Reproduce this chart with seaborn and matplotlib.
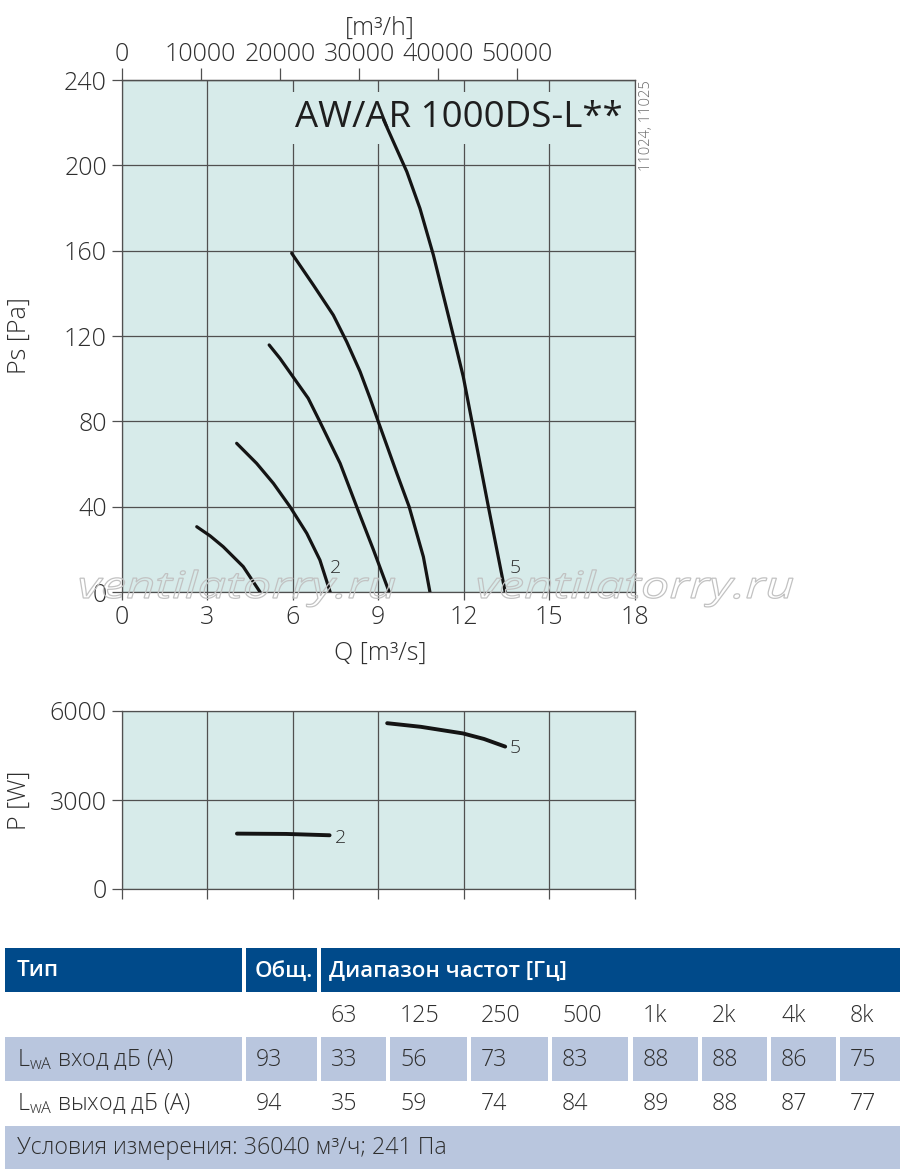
import numpy as np
import pandas as pd
import matplotlib
matplotlib.use("Agg")
import matplotlib.pyplot as plt
import seaborn as sns
from matplotlib import font_manager as fm
from matplotlib.patches import Rectangle, PathPatch
from matplotlib.textpath import TextPath
from matplotlib.font_manager import FontProperties
from matplotlib.transforms import Affine2D

# ---------------- data ----------------
# Static pressure curves (Q in m3/s, Ps in Pa)
c1_q = [2.64, 3.11, 3.57, 4.27, 4.86]
c1_ps = [30.6, 26.3, 21.2, 11.9, 0.0]
c2_q = [4.04, 4.74, 5.33, 5.91, 6.50, 6.96, 7.32]
c2_ps = [69.7, 60.3, 50.9, 40.0, 27.5, 15.0, 0.0]
c3_q = [5.18, 5.56, 6.55, 6.96, 7.67, 8.25, 8.84, 9.39]
c3_ps = [115.8, 109.5, 90.8, 79.8, 60.3, 40.0, 19.7, 0.0]
c4_q = [5.97, 6.73, 7.43, 7.90, 8.37, 8.72, 9.01, 9.66, 10.09, 10.59, 10.82]
c4_ps = [158.8, 143.9, 129.8, 117.3, 103.3, 90.8, 79.8, 55.6, 40.0, 16.5, 0.0]
c5_q = [9.19, 9.59, 10.01, 10.47, 10.94, 11.64, 11.99, 12.29, 12.87, 13.46]
c5_ps = [221.5, 209.5, 197.0, 179.8, 158.0, 120.2, 100.9, 80.2, 40.0, 0.0]

# Power curves (Q in m3/s, P in W)
p2_q = [4.05, 5.78, 7.30]
p2_w = [1867, 1856, 1811]
p5_q = [9.32, 10.5, 11.98, 12.72, 13.46]
p5_w = [5589, 5467, 5244, 5056, 4800]

q_ticks = [0, 3, 6, 9, 12, 15, 18]
ps_ticks = [0, 40, 80, 120, 160, 200, 240]
p_ticks = [0, 3000, 6000]
m3h_ticks = [0, 10000, 20000, 30000, 40000, 50000]

title_text = "AW/AR 1000DS-L**"
code_text = "11024, 11025"
watermark = "ventilatorry.ru"

# Table data
tbl_head = ["Тип", "Общ.", "Диапазон частот [Гц]"]
freq_labels = ["63", "125", "250", "500", "1k", "2k", "4k", "8k"]
row_in_label = r"L$_{\mathrm{wA}}$ вход дБ (А)"
row_out_label = r"L$_{\mathrm{wA}}$ выход дБ (А)"
total_in = 93
total_out = 94
lwa_in = [33, 56, 73, 83, 88, 88, 86, 75]
lwa_out = [35, 59, 74, 84, 89, 88, 87, 77]
conditions = "Условия измерения: 36040 м³/ч; 241 Па"

# ---------------- style ----------------
sns.set_theme(style="white")
names = {f.name for f in fm.fontManager.ttflist}


def pick(*cands):
    for c in cands:
        if c in names:
            return c
    return "DejaVu Sans"


main_font = pick("Open Sans", "Noto Sans", "Lato", "DejaVu Sans")
cond_font = pick("Open Sans", "Noto Sans", "DejaVu Sans")
plt.rcParams["font.family"] = [main_font, "DejaVu Sans"]
plt.rcParams["font.weight"] = "light"
plt.rcParams["mathtext.fontset"] = "custom"
plt.rcParams["mathtext.rm"] = main_font + ":light"
plt.rcParams["mathtext.it"] = main_font + ":italic"
plt.rcParams["mathtext.bf"] = main_font + ":bold"

BG = "#d7ebea"
GRID = "#505050"
TXT = "#2e2e2e"
LINE = "#141414"

W, H = 900, 1173
fig = plt.figure(figsize=(W / 100, H / 100), dpi=100)


def fpos(l, t, r, b):
    return [l / W, 1 - b / H, (r - l) / W, (b - t) / H]


def ftext(px, py, s, **kw):
    fig.text(px / W, 1 - py / H, s, **kw)


# ---------------- main Ps chart ----------------
ax = fig.add_axes(fpos(121.5, 80, 634.6, 592))
ax.set_facecolor(BG)
df_ps = pd.concat([
    pd.DataFrame({"Q": q, "Ps": p, "curve": i})
    for i, (q, p) in enumerate([(c1_q, c1_ps), (c2_q, c2_ps), (c3_q, c3_ps),
                                (c4_q, c4_ps), (c5_q, c5_ps)], start=1)
])
sns.lineplot(data=df_ps, x="Q", y="Ps", units="curve", estimator=None,
             sort=False, color=LINE, lw=2.3, ax=ax, zorder=4)
ax.set_xlim(0, 18)
ax.set_ylim(0, 240)
ax.set_xticks(q_ticks)
ax.set_yticks(ps_ticks)
ax.set_xlabel("")
ax.set_ylabel("")
ax.grid(True, color=GRID, lw=0.9)
ax.set_axisbelow(True)
for s in ax.spines.values():
    s.set_color(GRID)
    s.set_linewidth(0.9)
ax.tick_params(axis="both", direction="out", color=GRID, width=0.9,
               labelsize=18, labelcolor=TXT)
ax.tick_params(axis="y", length=7, pad=3.5, left=True)
ax.tick_params(axis="x", length=6, pad=3, bottom=True, top=False)

sec = ax.secondary_xaxis("top", functions=(lambda q: q * 3600, lambda h: h / 3600))
sec.set_xticks(m3h_ticks)
sec.tick_params(direction="out", length=8.5, width=0.9, color=GRID,
                labelsize=18, labelcolor=TXT, pad=1)
sec.spines["top"].set_color(GRID)
sec.spines["top"].set_linewidth(0.9)

ax.text(6.09, 218.1, title_text, fontsize=26.4, color="#1e1e1e", ha="left",
        va="baseline", zorder=2, fontweight="normal",
        bbox=dict(boxstyle="square,pad=0.22", facecolor=BG, edgecolor="none"))
ax.text(7.52, 11.1, "2", fontsize=14, color=TXT, ha="center", va="center", zorder=5)
ax.text(13.81, 11.1, "5", fontsize=14, color=TXT, ha="center", va="center", zorder=5)

ftext(380, 28, "[m³/h]", fontsize=18, color=TXT, ha="center", va="center")
ftext(380, 653, "Q [m³/s]", fontsize=18, color=TXT, ha="center", va="center")
ftext(19, 336, "Ps [Pa]", fontsize=18, color=TXT, ha="center", va="center", rotation=90)
ftext(647, 126, code_text, fontsize=10.5, color="#6a6a6a", ha="center", va="center", rotation=90)

# ---------------- power chart ----------------
axp = fig.add_axes(fpos(121.5, 711, 634.6, 889))
axp.set_facecolor(BG)
df_p = pd.concat([
    pd.DataFrame({"Q": p2_q, "P": p2_w, "curve": 2}),
    pd.DataFrame({"Q": p5_q, "P": p5_w, "curve": 5}),
])
sns.lineplot(data=df_p, x="Q", y="P", units="curve", estimator=None,
             sort=False, color=LINE, lw=2.8, ax=axp, zorder=4)
axp.set_xlim(0, 18)
axp.set_ylim(0, 6000)
axp.set_xticks(q_ticks)
axp.set_yticks(p_ticks)
axp.set_xticklabels([])
axp.set_xlabel("")
axp.set_ylabel("")
axp.grid(True, color=GRID, lw=0.9)
axp.set_axisbelow(True)
for s in axp.spines.values():
    s.set_color(GRID)
    s.set_linewidth(0.9)
axp.tick_params(axis="both", direction="out", color=GRID, width=0.9,
                labelsize=18, labelcolor=TXT)
axp.tick_params(axis="y", length=7, pad=3.5, left=True)
axp.tick_params(axis="x", length=7, bottom=True)
axp.text(7.67, 1729, "2", fontsize=14, color=TXT, ha="center", va="center")
axp.text(13.83, 4743, "5", fontsize=14, color=TXT, ha="center", va="center")
ftext(19, 800, "P [W]", fontsize=18, color=TXT, ha="center", va="center", rotation=90)

# ---------------- overlay: watermark + table ----------------
ov = fig.add_axes([0, 0, 1, 1], zorder=10)
ov.set_xlim(0, W)
ov.set_ylim(0, H)
ov.axis("off")
ov.patch.set_alpha(0)

wm_fp = FontProperties(family=[main_font], style="italic", weight="normal")
for x0 in (80, 478):
    tp = TextPath((0, 0), watermark, size=37, prop=wm_fp)
    ext = tp.get_extents()
    sx = 315.0 / ext.width
    tr = Affine2D().translate(-ext.x0, 0).scale(sx, 1.0).translate(x0, H - 598)
    ov.add_patch(PathPatch(tr.transform_path(tp), facecolor="none",
                           edgecolor="#c2c2c2", lw=0.9))

DARK = "#004a8a"
LIGHT = "#b9c6de"


def rect(x0, top, x1, bot, color):
    ov.add_patch(Rectangle((x0, H - bot), x1 - x0, bot - top, facecolor=color,
                           edgecolor="none"))


def ttext(px, py, s, **kw):
    ov.text(px, H - py, s, ha="left", va="center", **kw)


col_edges = [(321, 386), (390, 467), (471, 548), (552, 628),
             (633, 698), (702, 767), (771, 836), (840, 900)]

# header
rect(5, 948, 242, 992, DARK)
rect(246, 948, 317, 992, DARK)
rect(321, 948, 900, 992, DARK)
hdr_kw = dict(fontsize=16, color="white", fontweight="semibold", family=[cond_font, "DejaVu Sans"])
ttext(17, 971, tbl_head[0], **hdr_kw)
ttext(255, 971, tbl_head[1], **hdr_kw)
ttext(329, 971, tbl_head[2], **hdr_kw)

cell_kw = dict(fontsize=16.7, color=TXT, family=[cond_font, "DejaVu Sans"])
# frequency row
for (x0, x1), lab in zip(col_edges, freq_labels):
    ttext(x0 + 10, 1016, lab, **cell_kw)

# row: inlet
rect(5, 1037, 242, 1081, LIGHT)
rect(246, 1037, 317, 1081, LIGHT)
for x0, x1 in col_edges:
    rect(x0, 1037, x1, 1081, LIGHT)
ttext(17, 1060, row_in_label, **cell_kw)
ttext(256, 1060, str(total_in), **cell_kw)
for (x0, x1), v in zip(col_edges, lwa_in):
    ttext(x0 + 10, 1060, str(v), **cell_kw)

# row: outlet
ttext(17, 1104, row_out_label, **cell_kw)
ttext(256, 1104, str(total_out), **cell_kw)
for (x0, x1), v in zip(col_edges, lwa_out):
    ttext(x0 + 10, 1104, str(v), **cell_kw)

# conditions row
rect(5, 1126, 900, 1169, LIGHT)
ttext(17, 1148, conditions, **cell_kw)

fig.savefig("out.png", dpi=100)
